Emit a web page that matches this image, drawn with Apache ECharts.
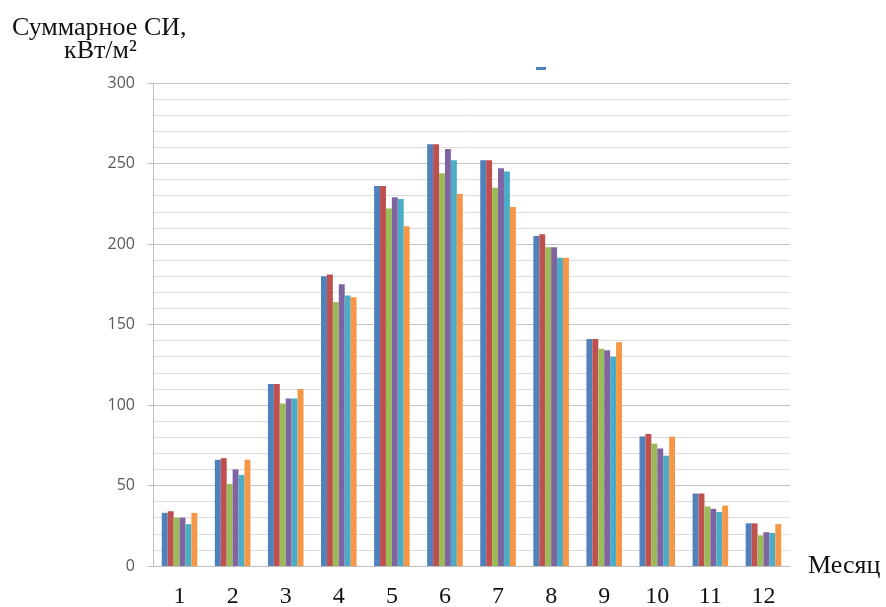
<!DOCTYPE html>
<html lang="ru">
<head>
    <meta charset="UTF-8">
    <title>Суммарное СИ</title>
    <script src="https://cdn.jsdelivr.net/npm/echarts@6/dist/echarts.min.js"></script>
    <style>
        html, body { margin: 0; padding: 0; background: #fff; }
        #chart { width: 886px; height: 607px; }
    </style>
</head>
<body>
<div id="chart"></div>
<script>
    // месяцы
    var months = ['1', '2', '3', '4', '5', '6', '7', '8', '9', '10', '11', '12'];
    // шесть рядов, значения
    var s1 = [33, 66, 113, 180, 236, 262, 252, 205, 141, 80.5, 45, 26.5];
    var s2 = [34, 67, 113, 181, 236, 262, 252, 206, 141, 82, 45, 26.5];
    var s3 = [30, 51, 101, 164, 222, 244, 235, 198, 135, 76, 37, 19];
    var s4 = [30, 60, 104, 175, 229, 259, 247, 198, 134, 73, 35.5, 21];
    var s5 = [26, 56.5, 104, 168, 228, 252, 245, 191.5, 130, 68.5, 33.5, 20.5];
    var s6 = [33, 66, 110, 167, 211, 231, 223, 191.5, 139, 80.5, 37.5, 26];
    var yTicks = [0, 50, 100, 150, 200, 250, 300];

    var colors = ['#4F81BD', '#C0504D', '#9BBB59', '#8064A2', '#4BACC6', '#F79646'];
    var allSeries = [s1, s2, s3, s4, s5, s6];

    var chart = echarts.init(document.getElementById('chart'));
    var option = {
        animation: false,
        color: colors,
        grid: { left: 153, right: 96, top: 83, bottom: 41, outerBoundsMode: 'none' },
        graphic: [
            { type: 'text', left: 12, top: 15,
              style: { text: 'Суммарное СИ,', font: '26px "Liberation Serif"', fill: '#111' } },
            { type: 'text', left: 64, top: 38,
              style: { text: 'кВт/м²', font: '26px "Liberation Serif"', fill: '#111' } },
            { type: 'rect', left: 536, top: 67,
              shape: { width: 10, height: 3 }, style: { fill: '#4F81BD' } }
        ],
        xAxis: {
            type: 'category',
            data: months,
            name: 'Месяц',
            nameLocation: 'end',
            nameGap: 18,
            nameTextStyle: { fontFamily: 'Liberation Serif', fontSize: 26, color: '#111', verticalAlign: 'middle' },
            axisLine: { lineStyle: { color: '#bfbfbf' } },
            axisTick: { show: false },
            axisLabel: { fontFamily: 'Liberation Serif', fontSize: 24, color: '#111', margin: 19 }
        },
        yAxis: {
            type: 'value',
            min: yTicks[0],
            max: yTicks[yTicks.length - 1],
            interval: 50,
            axisLine: { show: true, lineStyle: { color: '#bfbfbf' } },
            axisTick: { show: true, length: 5, lineStyle: { color: '#bfbfbf' } },
            axisLabel: { fontFamily: 'Open Sans', fontSize: 16, color: '#595959', margin: 18 },
            splitLine: { lineStyle: { color: '#c4c4c4', width: 1 } },
            minorTick: { show: false, splitNumber: 5 },
            minorSplitLine: { show: true, lineStyle: { color: '#dcdcdc', width: 1 } }
        },
        series: allSeries.map(function (d, i) {
            return {
                type: 'bar',
                data: d,
                barGap: '0%',
                barCategoryGap: '33%',
                itemStyle: { color: colors[i] }
            };
        })
    };
    chart.setOption(option);
</script>
</body>
</html>
